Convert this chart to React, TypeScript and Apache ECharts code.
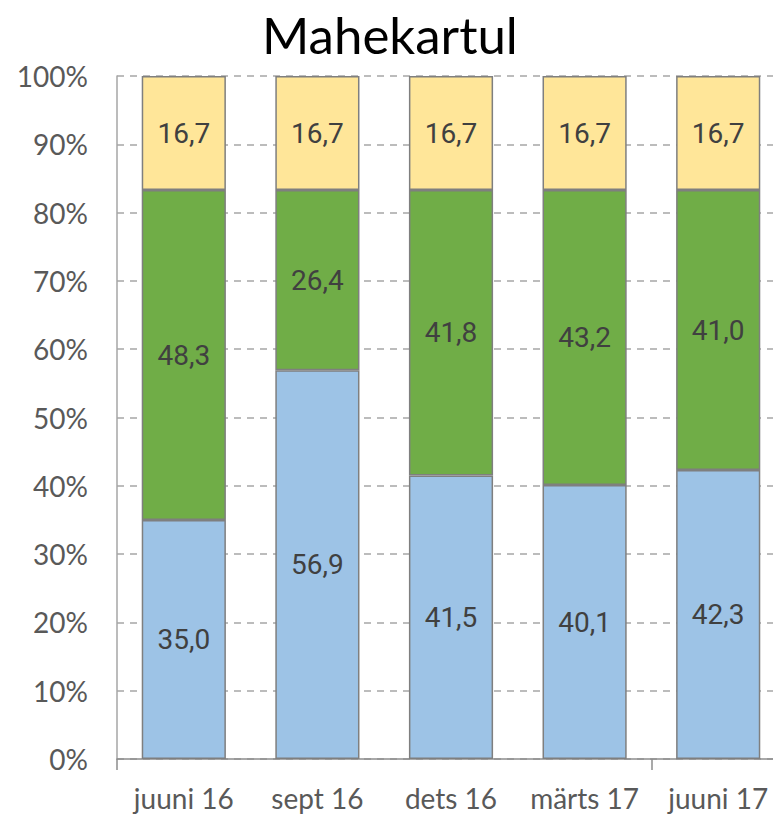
import React, { useEffect, useRef } from "react";
import * as echarts from "echarts";

const categories = ["juuni 16", "sept 16", "dets 16", "märts 17", "juuni 17"];
const blueValues = [35.0, 56.9, 41.5, 40.1, 42.3];
const greenValues = [48.3, 26.4, 41.8, 43.2, 41.0];
const yellowValues = [16.7, 16.7, 16.7, 16.7, 16.7];

const labelStyle = {
  show: true,
  position: "inside" as const,
  fontFamily: "Roboto, sans-serif",
  fontSize: 28,
  color: "#404040",
  formatter: (p: any) => Number(p.value).toFixed(1).replace(".", ","),
};

export default function App() {
  const ref = useRef<HTMLDivElement>(null);
  useEffect(() => {
    if (!ref.current) return;
    const chart = echarts.init(ref.current, undefined, { renderer: "svg" });
    const mk = (name: string, data: number[], color: string) => ({
      name,
      type: "bar",
      stack: "total",
      data,
      barCategoryGap: "37%",
      itemStyle: { color, borderColor: "#7f7f7f", borderWidth: 1.5 },
      label: labelStyle,
    });
    chart.setOption({
      animation: false,
      title: {
        text: "Mahekartul",
        left: 257,
        top: 4,
        textStyle: { fontFamily: "Lato, sans-serif", fontSize: 51, fontWeight: "normal", color: "#000" },
      },
      grid: { left: 117, top: 76, bottom: 57, right: 0, containLabel: false },
      xAxis: {
        type: "category",
        data: categories,
        axisLine: { lineStyle: { color: "#8c8c8c", width: 1.5 } },
        axisTick: {
          show: true,
          length: 11,
          interval: (i: number) => i === 0 || i === 4,
          lineStyle: { color: "#8c8c8c", width: 1.5 },
        },
        axisLabel: { interval: 0, fontFamily: "Lato, sans-serif", fontSize: 28, color: "#595959", margin: 25 },
      },
      yAxis: {
        type: "value",
        min: 0,
        max: 100,
        interval: 10,
        axisLine: { show: true, lineStyle: { color: "#a6a6a6", width: 1.5 } },
        axisTick: { show: false },
        axisLabel: { fontFamily: "Lato, sans-serif", fontSize: 28, color: "#595959", margin: 29, formatter: "{value}%" },
        splitLine: { lineStyle: { color: "#a6a6a6", width: 1.5, type: [7, 6] } },
      },
      series: [
        mk("blue", blueValues, "#9dc3e6"),
        mk("green", greenValues, "#70ad47"),
        mk("yellow", yellowValues, "#ffe699"),
      ],
    });
    return () => chart.dispose();
  }, []);
  return (
    <div style={{ position: "absolute", left: 0, top: 0, width: 773, height: 816, overflow: "hidden" }}>
      <div ref={ref} style={{ width: 785, height: 816 }} />
    </div>
  );
}
